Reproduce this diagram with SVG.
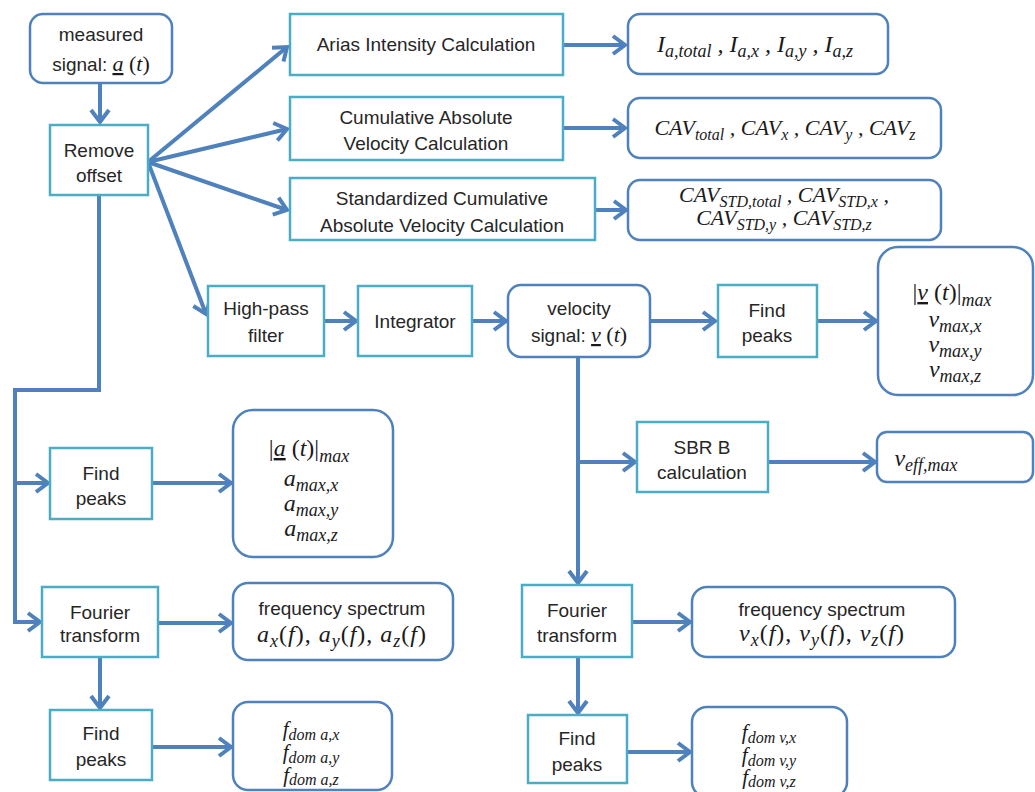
<svg xmlns="http://www.w3.org/2000/svg" width="1035" height="792" viewBox="0 0 1035 792">
<style>
.proc{fill:#fff;stroke:#4bacc6;stroke-width:2.5}
.out{fill:#fff;stroke:#4f81bd;stroke-width:2.5}
.t{font-family:"Liberation Sans",Arial,sans-serif;font-size:19px;fill:#262626;text-anchor:middle}
.m{font-family:"Liberation Serif","Times New Roman",serif;font-style:italic;font-size:24px;fill:#1a1a1a;text-anchor:middle}
.m2{font-size:22px}
.m3{font-size:21px}
.mu{font-style:normal}
.s{font-size:18px}
.m2 .s{font-size:16px}
.m3 .s{font-size:16px}
.sp{letter-spacing:1px}
.c{fill:none;stroke:#4f81bd;stroke-width:4}
</style>
<defs>
<marker id="arr" markerUnits="userSpaceOnUse" markerWidth="22" markerHeight="26" viewBox="-4 -4 22 26" refX="12" refY="9" orient="auto">
<path d="M0,0 L12,9 L0,18" fill="none" stroke="#4f81bd" stroke-width="4" stroke-linejoin="miter"/>
</marker>
</defs>
<rect width="1035" height="792" fill="#fff"/>
<g id="connectors">
<path class="c" d="M100,83 V122" marker-end="url(#arr)"/>
<path class="c" d="M148,162 L287,47" marker-end="url(#arr)"/>
<path class="c" d="M148,162 L287,129" marker-end="url(#arr)"/>
<path class="c" d="M148,162 L287,210" marker-end="url(#arr)"/>
<path class="c" d="M148,162 L206,314" marker-end="url(#arr)"/>
<path class="c" d="M563,45 H625" marker-end="url(#arr)"/>
<path class="c" d="M563,128 H625" marker-end="url(#arr)"/>
<path class="c" d="M595,210 H626" marker-end="url(#arr)"/>
<path class="c" d="M324,321 H356" marker-end="url(#arr)"/>
<path class="c" d="M472,321 H506" marker-end="url(#arr)"/>
<path class="c" d="M650,321 H715" marker-end="url(#arr)"/>
<path class="c" d="M817,321 H876" marker-end="url(#arr)"/>
<path class="c" d="M578,357 V583" marker-end="url(#arr)"/>
<path class="c" d="M578,462 H635" marker-end="url(#arr)"/>
<path class="c" d="M768,462 H875" marker-end="url(#arr)"/>
<path class="c" d="M632,622 H690" marker-end="url(#arr)"/>
<path class="c" d="M578,657 V713" marker-end="url(#arr)"/>
<path class="c" d="M627,752 H690" marker-end="url(#arr)"/>
<path class="c" d="M99,195 V390 H15 V622 H40" marker-end="url(#arr)"/>
<path class="c" d="M15,483 H48" marker-end="url(#arr)"/>
<path class="c" d="M152,483 H231" marker-end="url(#arr)"/>
<path class="c" d="M158,623 H231" marker-end="url(#arr)"/>
<path class="c" d="M100,657 V708" marker-end="url(#arr)"/>
<path class="c" d="M152,747 H231" marker-end="url(#arr)"/>
</g>
<g id="measured">
<rect class="out" x="30" y="14" width="142" height="69" rx="13"/>
<text class="t" x="101" y="41">measured</text>
<text class="t" x="101" y="71">signal:  <tspan class="m m2" text-decoration="underline">a</tspan><tspan class="m m2 mu"> (</tspan><tspan class="m m2">t</tspan><tspan class="m m2 mu">)</tspan></text>
</g>
<g id="remove">
<rect class="proc" x="50" y="125" width="98" height="70"/>
<text class="t" x="99" y="157">Remove</text>
<text class="t" x="99" y="182">offset</text>
</g>
<g id="arias">
<rect class="proc" x="290" y="14" width="273" height="61"/>
<text class="t" x="426" y="51">Arias Intensity Calculation</text>
</g>
<g id="cav">
<rect class="proc" x="290" y="97" width="273" height="63"/>
<text class="t" x="426" y="124">Cumulative Absolute</text>
<text class="t" x="426" y="150">Velocity Calculation</text>
</g>
<g id="cavstd">
<rect class="proc" x="290" y="178" width="305" height="62"/>
<text class="t" x="442" y="205">Standardized Cumulative</text>
<text class="t" x="442" y="232">Absolute Velocity Calculation</text>
</g>
<g id="ia">
<rect class="out" x="628" y="14" width="260" height="60" rx="12"/>
<text class="m" x="755" y="52">I<tspan class="s" dy="5">a,total</tspan><tspan dy="-5"> , I</tspan><tspan class="s" dy="5">a,x</tspan><tspan dy="-5"> , I</tspan><tspan class="s" dy="5">a,y</tspan><tspan dy="-5"> , I</tspan><tspan class="s" dy="5">a,z</tspan></text>
</g>
<g id="cavout">
<rect class="out" x="628" y="98" width="313" height="60" rx="12"/>
<text class="m m2" x="785" y="135">CAV<tspan class="s" dy="5">total</tspan><tspan dy="-5"> , CAV</tspan><tspan class="s" dy="5">x</tspan><tspan dy="-5"> , CAV</tspan><tspan class="s" dy="5">y</tspan><tspan dy="-5"> , CAV</tspan><tspan class="s" dy="5">z</tspan></text>
</g>
<g id="cavstdout">
<rect class="out" x="628" y="180" width="313" height="60" rx="12"/>
<text class="m m2" x="784" y="202">CAV<tspan class="s" dy="5">STD,total</tspan><tspan dy="-5"> , CAV</tspan><tspan class="s" dy="5">STD,x</tspan><tspan dy="-5"> ,</tspan></text>
<text class="m m2" x="784" y="225">CAV<tspan class="s" dy="5">STD,y</tspan><tspan dy="-5"> , CAV</tspan><tspan class="s" dy="5">STD,z</tspan></text>
</g>
<g id="highpass">
<rect class="proc" x="208" y="286" width="116" height="70"/>
<text class="t" x="266" y="315">High-pass</text>
<text class="t" x="266" y="342">filter</text>
</g>
<g id="integrator">
<rect class="proc" x="358" y="286" width="114" height="70"/>
<text class="t" x="415" y="328">Integrator</text>
</g>
<g id="velocity">
<rect class="out" x="508" y="285" width="142" height="72" rx="13"/>
<text class="t" x="579" y="315">velocity</text>
<text class="t" x="579" y="342">signal:  <tspan class="m m2" text-decoration="underline">v</tspan><tspan class="m m2 mu"> (</tspan><tspan class="m m2">t</tspan><tspan class="m m2 mu">)</tspan></text>
</g>
<g id="findpeaksv">
<rect class="proc" x="718" y="285" width="99" height="72"/>
<text class="t" x="767" y="317">Find</text>
<text class="t" x="767" y="342">peaks</text>
</g>
<g id="vmax">
<rect class="out" x="878" y="247" width="155" height="148" rx="20"/>
<text class="m" x="952" y="300"><tspan class="mu">|</tspan><tspan text-decoration="underline">v</tspan><tspan class="mu"> (</tspan>t<tspan class="mu">)|</tspan><tspan class="s" dy="6">max</tspan></text>
<text class="m" x="955" y="327">v<tspan class="s" dy="5">max,x</tspan></text>
<text class="m" x="955" y="352">v<tspan class="s" dy="5">max,y</tspan></text>
<text class="m" x="955" y="377">v<tspan class="s" dy="5">max,z</tspan></text>
</g>
<g id="sbr">
<rect class="proc" x="637" y="422" width="131" height="70"/>
<text class="t" x="702" y="454">SBR B</text>
<text class="t" x="702" y="479">calculation</text>
</g>
<g id="veff">
<rect class="out" x="877" y="432" width="156" height="50" rx="10"/>
<text class="m" x="926" y="466">v<tspan class="s" dy="5">eff,max</tspan></text>
</g>
<g id="findpeaksa">
<rect class="proc" x="50" y="448" width="102" height="71"/>
<text class="t" x="101" y="480">Find</text>
<text class="t" x="101" y="505">peaks</text>
</g>
<g id="amax">
<rect class="out" x="233" y="410" width="160" height="147" rx="20"/>
<text class="m" x="309" y="456"><tspan class="mu">|</tspan><tspan text-decoration="underline">a</tspan><tspan class="mu"> (</tspan>t<tspan class="mu">)|</tspan><tspan class="s" dy="6">max</tspan></text>
<text class="m" x="311" y="486">a<tspan class="s" dy="5">max,x</tspan></text>
<text class="m" x="311" y="511">a<tspan class="s" dy="5">max,y</tspan></text>
<text class="m" x="311" y="536">a<tspan class="s" dy="5">max,z</tspan></text>
</g>
<g id="fouriera">
<rect class="proc" x="42" y="587" width="116" height="70"/>
<text class="t" x="100" y="619">Fourier</text>
<text class="t" x="100" y="642">transform</text>
</g>
<g id="freqa">
<rect class="out" x="233" y="583" width="220" height="77" rx="15"/>
<text class="t" x="342" y="615">frequency spectrum</text>
<text class="m sp" x="342" y="642">a<tspan class="s" dy="5">x</tspan><tspan dy="-5" class="mu">(</tspan>f<tspan class="mu">), </tspan>a<tspan class="s" dy="5">y</tspan><tspan dy="-5" class="mu">(</tspan>f<tspan class="mu">), </tspan>a<tspan class="s" dy="5">z</tspan><tspan dy="-5" class="mu">(</tspan>f<tspan class="mu">)</tspan></text>
</g>
<g id="findpeaksa2">
<rect class="proc" x="50" y="710" width="102" height="70"/>
<text class="t" x="101" y="740">Find</text>
<text class="t" x="101" y="766">peaks</text>
</g>
<g id="fdoma">
<rect class="out" x="233" y="702" width="159" height="88" rx="15"/>
<text class="m m3" x="311" y="736">f<tspan class="s" dy="4">dom a,x</tspan></text>
<text class="m m3" x="311" y="759">f<tspan class="s" dy="4">dom a,y</tspan></text>
<text class="m m3" x="311" y="782">f<tspan class="s" dy="3">dom a,z</tspan></text>
</g>
<g id="fourierv">
<rect class="proc" x="522" y="585" width="110" height="72"/>
<text class="t" x="577" y="617">Fourier</text>
<text class="t" x="577" y="642">transform</text>
</g>
<g id="freqv">
<rect class="out" x="692" y="587" width="263" height="70" rx="15"/>
<text class="t" x="822" y="616">frequency spectrum</text>
<text class="m sp" x="822" y="641">v<tspan class="s" dy="5">x</tspan><tspan dy="-5" class="mu">(</tspan>f<tspan class="mu">), </tspan>v<tspan class="s" dy="5">y</tspan><tspan dy="-5" class="mu">(</tspan>f<tspan class="mu">), </tspan>v<tspan class="s" dy="5">z</tspan><tspan dy="-5" class="mu">(</tspan>f<tspan class="mu">)</tspan></text>
</g>
<g id="findpeaksv2">
<rect class="proc" x="528" y="715" width="99" height="68"/>
<text class="t" x="577" y="745">Find</text>
<text class="t" x="577" y="771">peaks</text>
</g>
<g id="fdomv">
<rect class="out" x="692" y="707" width="155" height="90" rx="15"/>
<text class="m m3" x="769" y="739">f<tspan class="s" dy="4">dom v,x</tspan></text>
<text class="m m3" x="769" y="762">f<tspan class="s" dy="4">dom v,y</tspan></text>
<text class="m m3" x="769" y="784">f<tspan class="s" dy="3">dom v,z</tspan></text>
</g>
</svg>
